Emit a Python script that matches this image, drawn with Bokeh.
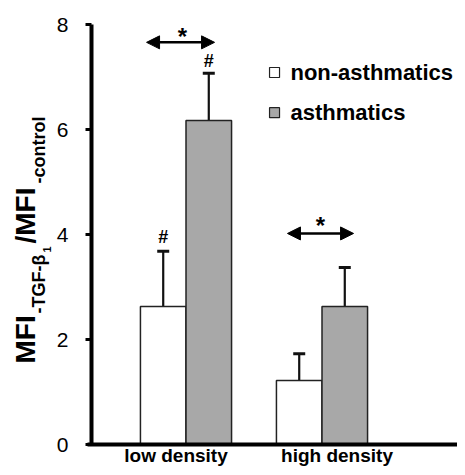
import numpy as np
from bokeh.plotting import figure
from bokeh.models import (ColumnDataSource, Range1d, Whisker, TeeHead,
                          Arrow, NormalHead, FixedTicker)
from bokeh.core.properties import value
from bokeh.embed import file_html
from bokeh.resources import INLINE

# ---------------- data ----------------
groups = ["low density", "high density"]
group_pos = [1.0, 2.0]
series_names = ["non-asthmatics", "asthmatics"]
non_asthmatics = [2.63, 1.22]
non_asthmatics_err = [1.05, 0.51]
asthmatics = [6.17, 2.63]
asthmatics_err = [0.90, 0.74]
y_ticks = [0, 2, 4, 6, 8]

# significance annotations (data coordinates)
star_arrow_x0 = [0.71, 1.746]
star_arrow_x1 = [1.21, 2.232]
star_arrow_y = [7.66, 4.02]
star_x = [0.974, 1.989]
star_y = [7.78, 4.18]
hash_x = [0.8325, 1.1675]
hash_y = [3.95, 7.31]

# ---------------- layout helpers (pixel -> data) ----------------
def px_x(px):
    return 1 + (px - 185.5) / 136.0

def px_y(py):
    return (444 - py) / 52.5

W, H = 457, 467
FONT = "Liberation Sans"
GRAY = "#a8a8a8"
EDGE = "#222222"
BW = 0.335
off = BW / 2

p = figure(width=W, height=H, output_backend="svg", toolbar_location=None,
           x_range=Range1d(px_x(0), px_x(W)), y_range=Range1d(px_y(H), px_y(0)),
           min_border_left=0, min_border_right=0, min_border_top=0,
           min_border_bottom=0)
p.outline_line_color = None
p.grid.visible = False
p.background_fill_color = "white"
p.border_fill_color = "white"

# bars
xw = [g - off for g in group_pos]
xa = [g + off for g in group_pos]
src_w = ColumnDataSource(dict(x=xw, top=non_asthmatics,
                              upper=[v + e for v, e in zip(non_asthmatics, non_asthmatics_err)]))
src_a = ColumnDataSource(dict(x=xa, top=asthmatics,
                              upper=[v + e for v, e in zip(asthmatics, asthmatics_err)]))
p.vbar(x="x", top="top", bottom=0, width=BW, fill_color="white",
       line_color=EDGE, line_width=1.5, source=src_w)
p.vbar(x="x", top="top", bottom=0, width=BW, fill_color=GRAY,
       line_color=EDGE, line_width=1.5, source=src_a)

for src in (src_w, src_a):
    p.add_layout(Whisker(base="x", lower="top", upper="upper", source=src,
                         line_width=2.2, line_color="#111111",
                         upper_head=TeeHead(size=12, line_width=3, line_color="#111111"),
                         lower_head=None))

# arrows with stars
for x0, x1, y in zip(star_arrow_x0, star_arrow_x1, star_arrow_y):
    p.add_layout(Arrow(x_start=x0, y_start=y, x_end=x1, y_end=y, line_width=2.5,
                       line_color="black",
                       start=NormalHead(size=13, fill_color="black", line_color="black", line_width=1),
                       end=NormalHead(size=13, fill_color="black", line_color="black", line_width=1)))
p.text(x=star_x, y=star_y, text=["*"] * len(star_x), text_align="center",
       text_baseline="alphabetic", text_font=value(FONT), text_font_style="bold",
       text_font_size="24px", text_color="black")
p.text(x=hash_x, y=hash_y, text=["#"] * len(hash_x), text_align="center",
       text_baseline="alphabetic", text_font=value(FONT), text_font_style="bold",
       text_font_size="18px", text_color="black")

# legend
leg_x = 1.651
leg_y = [7.086, 6.32]
p.scatter(x=[leg_x] * 2, y=leg_y, marker="square", size=10,
          fill_color=["white", GRAY], line_color=EDGE, line_width=1.2)
p.text(x=[1.768] * 2, y=leg_y, text=series_names, text_baseline="middle",
       text_align="left", text_font=value(FONT), text_font_style="bold",
       text_font_size="22px", text_color="black")

# axes drawn at fixed data locations inside the frame
p.yaxis.fixed_location = px_x(91)
p.yaxis.bounds = (0, 8)
p.yaxis.ticker = FixedTicker(ticks=y_ticks)
p.yaxis.minor_tick_line_color = None
p.yaxis.major_tick_in = 0
p.yaxis.major_tick_out = 6
p.yaxis.major_tick_line_width = 3
p.yaxis.axis_line_width = 4
p.yaxis.major_label_standoff = 17
p.yaxis.major_label_text_font = FONT
p.yaxis.major_label_text_font_size = "21px"
p.yaxis.major_label_text_color = "black"

p.xaxis.fixed_location = 0
p.xaxis.bounds = (px_x(87), px_x(W))
p.xaxis.ticker = FixedTicker(ticks=[])
p.xaxis.minor_tick_line_color = None
p.xaxis.major_tick_line_color = None
p.xaxis.axis_line_width = 4
p.xaxis.major_label_text_font_size = "0px"

# category labels
x_offsets = [-10, 15]
p.text(x=group_pos, y=[px_y(455)] * len(groups), text=groups, x_offset=x_offsets,
       text_align="center", text_baseline="middle",
       text_font=value(FONT), text_font_style="bold",
       text_font_size="19px", text_color="black")

# y-axis label pieces (rotated), anchored at the middle of each piece
ylabel_text = ["MFI", "-TGF-\u03b2", "1", "/MFI", "-control"]
ylabel_cx = [25, 38, 46, 25, 38]
ylabel_sy = [363, 313, 252, 243, 183]
ylabel_fs = ["28px", "18px", "11px", "28px", "18px"]
for txt, cx, sy, fs in zip(ylabel_text, ylabel_cx, ylabel_sy, ylabel_fs):
    p.text(x=[px_x(cx)], y=[px_y(sy)], text=[txt], angle=np.pi / 2,
           text_align="left", text_baseline="middle",
           text_font=value(FONT), text_font_style="bold", text_font_size=fs,
           text_color="black")

open("out.html", "w").write(file_html(p, INLINE))
